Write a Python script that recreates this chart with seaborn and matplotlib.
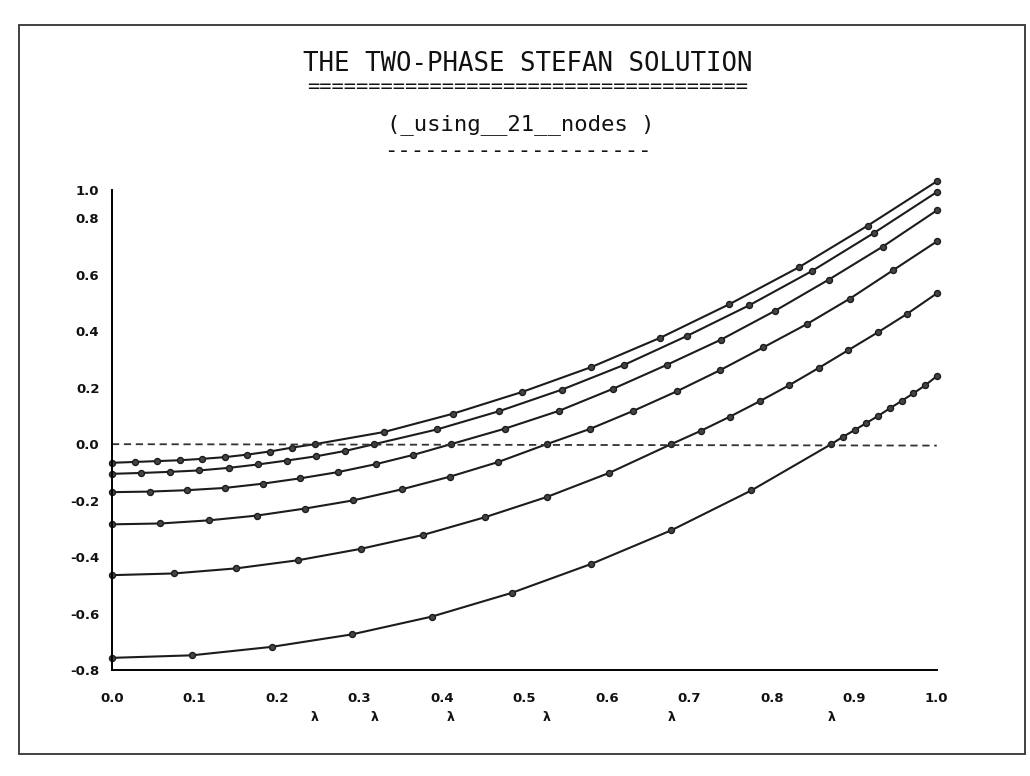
import numpy as np
import pandas as pd
import matplotlib
matplotlib.use("Agg")
import matplotlib.pyplot as plt
import seaborn as sns
from matplotlib.patches import Rectangle

# ---------------- data ----------------
# interface positions (lambda) for each time level
LAMBDAS = [0.246, 0.318, 0.411, 0.527, 0.678, 0.872]

# nodal values on [0, lambda] (10 nodes, incl. the interface node)
LEFT_1 = [-0.066, -0.063, -0.060, -0.057, -0.052, -0.046, -0.037, -0.026, -0.012, 0.000]
LEFT_2 = [-0.105, -0.102, -0.098, -0.093, -0.084, -0.072, -0.058, -0.043, -0.024, 0.000]
LEFT_3 = [-0.170, -0.168, -0.163, -0.155, -0.140, -0.121, -0.099, -0.071, -0.038, 0.000]
LEFT_4 = [-0.284, -0.281, -0.270, -0.253, -0.228, -0.199, -0.160, -0.115, -0.063, 0.000]
LEFT_5 = [-0.464, -0.458, -0.440, -0.411, -0.371, -0.322, -0.259, -0.187, -0.102, 0.000]
LEFT_6 = [-0.757, -0.748, -0.718, -0.674, -0.611, -0.527, -0.424, -0.305, -0.164, 0.000]

# nodal values on (lambda, 1] (9 nodes)
RIGHT_1 = [0.043, 0.108, 0.185, 0.273, 0.377, 0.496, 0.626, 0.774, 0.931]
RIGHT_2 = [0.052, 0.117, 0.193, 0.281, 0.383, 0.492, 0.613, 0.749, 0.893]
RIGHT_3 = [0.055, 0.118, 0.196, 0.281, 0.370, 0.472, 0.583, 0.700, 0.828]
RIGHT_4 = [0.054, 0.118, 0.187, 0.262, 0.343, 0.425, 0.516, 0.617, 0.718]
RIGHT_5 = [0.047, 0.098, 0.152, 0.209, 0.270, 0.333, 0.396, 0.462, 0.534]
RIGHT_6 = [0.026, 0.050, 0.075, 0.100, 0.127, 0.153, 0.180, 0.208, 0.241]

LEFTS = [LEFT_1, LEFT_2, LEFT_3, LEFT_4, LEFT_5, LEFT_6]
RIGHTS = [RIGHT_1, RIGHT_2, RIGHT_3, RIGHT_4, RIGHT_5, RIGHT_6]

# melting-temperature reference line (dashed)
DASH_X = [0.0, 1.0]
DASH_Y = [0.0, -0.005]

X_TICKS = [0.0, 0.1, 0.2, 0.3, 0.4, 0.5, 0.6, 0.7, 0.8, 0.9, 1.0]
X_TICK_LABELS = ["0.0", "0.1", "0.2", "0.3", "0.4", "0.5", "0.6", "0.7", "0.8", "0.9", "1.0"]
Y_TICKS = [-0.8, -0.6, -0.4, -0.2, 0.0, 0.2, 0.4, 0.6, 0.8, 0.9]
Y_TICK_LABELS = ["-0.8", "-0.6", "-0.4", "-0.2", "0.0", "0.2", "0.4", "0.6", "0.8", "1.0"]

TITLE = "THE TWO-PHASE STEFAN SOLUTION"
TITLE_RULE = "=" * 36
SUBTITLE = "(_using__21__nodes )"
SUBTITLE_RULE = "-" * 20
LAMBDA_MARK = "λ"

# ---------------- build long table ----------------
frames = []
for i, (lam, lv, rv) in enumerate(zip(LAMBDAS, LEFTS, RIGHTS)):
    xs = np.concatenate([np.linspace(0.0, lam, len(lv)),
                         np.linspace(lam, 1.0, len(rv) + 1)[1:]])
    ys = np.concatenate([lv, rv])
    frames.append(pd.DataFrame({"x": xs, "u": ys, "level": i}))
df = pd.concat(frames, ignore_index=True)

# ---------------- figure ----------------
sns.set_theme(style="white")
plt.rcParams["font.family"] = ["DejaVu Sans"]

INK = "#1c1c1c"
fig = plt.figure(figsize=(10.3, 7.76), dpi=100)
fig.patch.set_facecolor("white")
ax = fig.add_axes([0.1087, 0.1366, 0.8088, 0.6366])
ax.set_facecolor("white")

sns.lineplot(data=df, x="x", y="u", units="level", estimator=None, sort=False,
             color=INK, linewidth=1.5, marker="o", markersize=4.3,
             markeredgecolor=INK, markerfacecolor="#444444", markeredgewidth=1.0,
             ax=ax, clip_on=False, legend=False)

sns.lineplot(x=DASH_X, y=DASH_Y, ax=ax, color="#333333", linewidth=1.3,
             clip_on=False, legend=False)
ax.lines[-1].set_dashes([4, 2.6])

ax.set_xlim(0.0, 1.01)
ax.set_ylim(-0.8, 0.95)
ax.set_xlabel("")
ax.set_ylabel("")

for side in ("top", "right"):
    ax.spines[side].set_visible(False)
for side in ("left", "bottom"):
    ax.spines[side].set_color("black")
    ax.spines[side].set_linewidth(1.4)
ax.spines["left"].set_bounds(-0.8, 0.9)
ax.spines["bottom"].set_bounds(0.0, 1.0)

ax.set_xticks(X_TICKS)
ax.set_xticklabels(X_TICK_LABELS)
ax.set_yticks(Y_TICKS)
ax.set_yticklabels(Y_TICK_LABELS)
ax.tick_params(axis="both", which="both", direction="in", length=5, width=1.0,
               color="black", labelsize=9.5, labelcolor="#111111")
ax.tick_params(axis="x", pad=16)
ax.tick_params(axis="y", pad=9)
for lab in ax.get_xticklabels() + ax.get_yticklabels():
    lab.set_fontweight("bold")

# interface markers below the x axis
for lam in LAMBDAS:
    ax.annotate(LAMBDA_MARK, xy=(lam, 0.0), xycoords=("data", "axes fraction"),
                xytext=(0, -48), textcoords="offset pixels",
                ha="center", va="center", fontsize=9, fontweight="bold",
                color="#111111", annotation_clip=False)

# titles
mono = "DejaVu Sans Mono"
fig.text(0.512, 0.917, TITLE, ha="center", va="center", family=mono,
         fontsize=18.5, color="#111111")
fig.text(0.512, 0.889, TITLE_RULE, ha="center", va="center", family=mono,
         fontsize=14.7, color="#111111")
fig.text(0.506, 0.840, SUBTITLE, ha="center", va="center", family=mono,
         fontsize=16.0, color="#111111")
fig.text(0.503, 0.806, SUBTITLE_RULE, ha="center", va="center", family=mono,
         fontsize=16.0, color="#111111")

# page frame
fig.add_artist(Rectangle((0.018, 0.028), 0.977, 0.940, transform=fig.transFigure,
                         fill=False, linewidth=1.3, edgecolor="#333333"))

fig.savefig("out.png", dpi=100, facecolor="white")
